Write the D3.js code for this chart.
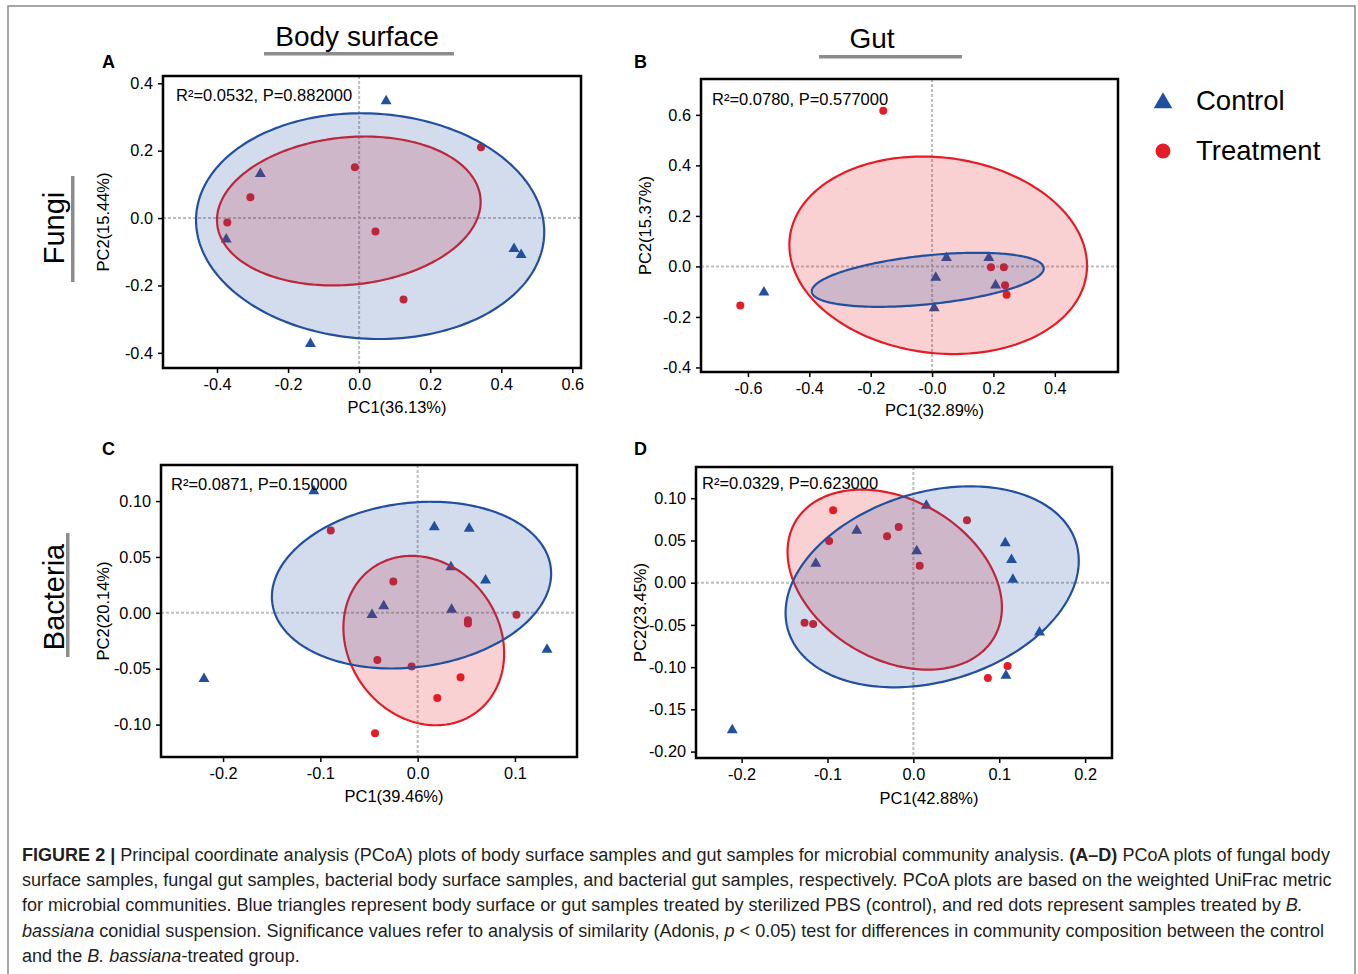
<!DOCTYPE html>
<html><head><meta charset="utf-8">
<script src="https://cdn.jsdelivr.net/npm/d3@7"></script>
<style>body{margin:0;background:#fff}svg{display:block;font-family:"Liberation Sans",Arial,sans-serif}</style>
</head><body><svg id="c" width="1358" height="974"></svg>
<script>
// ---------------- data ----------------
const groups = ["Control", "Treatment"];
const columnTitles = ["Body surface", "Gut"];
const rowTitles = ["Fungi", "Bacteria"];
const panelLetters = ["A", "B", "C", "D"];
const pcLabelsX = ["PC1(36.13%)", "PC1(32.89%)", "PC1(39.46%)", "PC1(42.88%)"];
const pcLabelsY = ["PC2(15.44%)", "PC2(15.37%)", "PC2(20.14%)", "PC2(23.45%)"];
const statsText = ["R²=0.0532, P=0.882000", "R²=0.0780, P=0.577000", "R²=0.0871, P=0.150000", "R²=0.0329, P=0.623000"];

const xTickLabels = [
  ["-0.4", "-0.2", "0.0", "0.2", "0.4", "0.6"],
  ["-0.6", "-0.4", "-0.2", "-0.0", "0.2", "0.4"],
  ["-0.2", "-0.1", "0.0", "0.1"],
  ["-0.2", "-0.1", "0.0", "0.1", "0.2"]
];
const yTickLabels = [
  ["-0.4", "-0.2", "0.0", "0.2", "0.4"],
  ["-0.4", "-0.2", "0.0", "0.2", "0.4", "0.6"],
  ["-0.10", "-0.05", "0.00", "0.05", "0.10"],
  ["-0.20", "-0.15", "-0.10", "-0.05", "0.00", "0.05", "0.10"]
];

// PCoA sample coordinates [PC1, PC2]
const controlA = [[0.076, 0.347], [-0.278, 0.131], [-0.374, -0.063], [0.436, -0.091], [0.456, -0.109], [-0.137, -0.373]];
const treatmentA = [[0.343, 0.210], [-0.012, 0.151], [-0.306, 0.062], [-0.371, -0.013], [0.046, -0.040], [0.125, -0.242]];

const controlB = [[-0.548, -0.103], [0.047, 0.034], [0.185, 0.034], [0.012, -0.044], [0.207, -0.075], [0.007, -0.165]];
const treatmentB = [[-0.159, 0.616], [-0.625, -0.155], [0.192, -0.003], [0.234, -0.003], [0.238, -0.075], [0.243, -0.112]];

const controlC = [[-0.1067, 0.109], [-0.2196, -0.059], [0.0171, 0.0767], [0.053, 0.0755], [0.0342, 0.0409], [0.0698, 0.029],
  [-0.0349, 0.006], [-0.0469, -0.0018], [0.0349, 0.003], [0.133, -0.0328]];
const treatmentC = [[-0.0893, 0.0737], [-0.025, 0.028], [0.0517, -0.0066], [0.0517, -0.0096], [0.1016, -0.0018],
  [-0.0414, -0.0421], [-0.0062, -0.048], [0.0441, -0.0576], [0.0202, -0.0761], [-0.0438, -0.1078]];

const controlD = [[-0.2109, -0.1745], [-0.1136, 0.0225], [-0.0659, 0.0616], [0.0151, 0.0912], [0.0039, 0.0375],
  [0.107, 0.047], [0.1143, 0.0272], [0.1159, 0.0036], [0.1469, -0.0588], [0.1078, -0.1101]];
const treatmentD = [[-0.0934, 0.0857], [-0.0981, 0.0493], [-0.1267, -0.0474], [-0.1167, -0.049], [-0.0306, 0.0549],
  [-0.0171, 0.0659], [0.0074, 0.0201], [0.0624, 0.0738], [0.1097, -0.0987], [0.0868, -0.1129]];

// confidence ellipses: [centre PC1, centre PC2, half-range PC1, half-range PC2, tilt (deg)]
const ellipseControl = [[0.031, -0.024, 0.49, 0.335, -3], [-0.014, -0.053, 0.378, 0.107, 25],
  [-0.0063, 0.0248, 0.1435, 0.0746, 8], [0.0219, -0.0049, 0.1707, 0.119, 15]];
const ellipseTreatment = [[-0.029, 0.021, 0.371, 0.221, 7], [0.020, 0.044, 0.485, 0.391, -6],
  [0.0063, -0.0248, 0.0826, 0.0758, -8.7], [-0.0217, 0.0036, 0.1248, 0.1066, -18]];

const controlPoints = [controlA, controlB, controlC, controlD];
const treatmentPoints = [treatmentA, treatmentB, treatmentC, treatmentD];

// ---------------- layout ----------------
const layout = [
  {left: 163, right: 581, top: 76, bottom: 368, xDom: [-0.552, 0.6245], yDom: [-0.445, 0.4216], stat: [13, 19], yTitleX: 109, xTitleY: 407, letter: [102, 68]},
  {left: 701, right: 1118, top: 79, bottom: 372, xDom: [-0.753, 0.606], yDom: [-0.418, 0.742], stat: [11, 20], yTitleX: 651, xTitleY: 410, letter: [634, 68]},
  {left: 161, right: 577, top: 465, bottom: 757, xDom: [-0.2638, 0.1638], yDom: [-0.129, 0.1323], stat: [10, 19], yTitleX: 109, xTitleY: 796, letter: [102, 455]},
  {left: 696, right: 1112, top: 467, bottom: 758, xDom: [-0.2531, 0.2313], yDom: [-0.2076, 0.137], stat: [6, 16], yTitleX: 646, xTitleY: 798, letter: [634, 455]}
];
const blue = "#22509f", red = "#e31d25";
const blueFill = "rgba(31,78,158,0.2)", redFill = "rgba(228,26,28,0.2)";

const svg = d3.select("#c");
svg.append("rect").attr("width", 1358).attr("height", 974).attr("fill", "#fff");
// outer frame
svg.append("path").attr("d", "M8,974 V6 H1355 V974").attr("fill", "none").attr("stroke", "#8a8a8a").attr("stroke-width", 1.5);

function ellipsePoints(e) {
  const [cx, cy, rx, ry, phiDeg] = e;
  const phi = phiDeg * Math.PI / 180;
  return d3.range(0, 241).map(i => {
    const t = i / 240 * 2 * Math.PI;
    return [cx + rx * Math.cos(t), cy + ry * Math.sin(t + phi)];
  });
}

layout.forEach((L, i) => {
  const x = d3.scaleLinear().domain(L.xDom).range([L.left, L.right]);
  const y = d3.scaleLinear().domain(L.yDom).range([L.bottom, L.top]);
  const g = svg.append("g");

  // reference lines at 0
  g.append("line").attr("x1", x(0)).attr("x2", x(0)).attr("y1", L.top).attr("y2", L.bottom)
    .attr("stroke", "#bdbdbd").attr("stroke-width", 2).attr("stroke-dasharray", "3,2");
  g.append("line").attr("y1", y(0)).attr("y2", y(0)).attr("x1", L.left).attr("x2", L.right)
    .attr("stroke", "#bdbdbd").attr("stroke-width", 2).attr("stroke-dasharray", "3,2");

  // points (drawn beneath ellipses)
  g.selectAll(".tri").data(controlPoints[i]).join("path")
    .attr("d", d3.symbol().type(d3.symbolTriangle).size(52))
    .attr("transform", d => `translate(${x(d[0])},${y(d[1])})`)
    .attr("fill", blue);
  g.selectAll(".dot").data(treatmentPoints[i]).join("circle")
    .attr("cx", d => x(d[0])).attr("cy", d => y(d[1])).attr("r", 4).attr("fill", red);

  const line = d3.line().x(d => x(d[0])).y(d => y(d[1])).curve(d3.curveLinearClosed);
  g.append("path").attr("d", line(ellipsePoints(ellipseTreatment[i])))
    .attr("fill", redFill).attr("stroke", red).attr("stroke-width", 2.2);
  g.append("path").attr("d", line(ellipsePoints(ellipseControl[i])))
    .attr("fill", blueFill).attr("stroke", blue).attr("stroke-width", 2.2);

  // axes
  const xt = xTickLabels[i], yt = yTickLabels[i];
  const xa = g.append("g").attr("transform", `translate(0,${L.bottom})`)
    .call(d3.axisBottom(x).tickValues(xt.map(Number)).tickFormat((d, k) => xt[k]).tickSize(5).tickPadding(5));
  const ya = g.append("g").attr("transform", `translate(${L.left},0)`)
    .call(d3.axisLeft(y).tickValues(yt.map(Number)).tickFormat((d, k) => yt[k]).tickSize(5).tickPadding(5));
  [xa, ya].forEach(a => {
    a.select(".domain").remove();
    a.selectAll(".tick line").attr("stroke", "#000").attr("stroke-width", 1.5);
    a.selectAll(".tick text").attr("fill", "#000").style("font-size", "16.3px").style("font-family", '"Liberation Sans",Arial,sans-serif');
  });

  // frame
  g.append("rect").attr("x", L.left).attr("y", L.top).attr("width", L.right - L.left).attr("height", L.bottom - L.top)
    .attr("fill", "none").attr("stroke", "#000").attr("stroke-width", 2.5);

  // stats text
  g.append("text").attr("x", L.left + L.stat[0]).attr("y", L.top + L.stat[1] + 6)
    .attr("font-size", 16.5).text(statsText[i]);

  // axis titles
  g.append("text").attr("x", (L.left + L.right) / 2 + 25).attr("y", L.xTitleY + 6).attr("text-anchor", "middle")
    .attr("font-size", 16.5).text(pcLabelsX[i]);
  g.append("text").attr("transform", `translate(${L.yTitleX},${(L.top + L.bottom) / 2}) rotate(-90)`)
    .attr("text-anchor", "middle").attr("font-size", 16.5).text(pcLabelsY[i]);

  // panel letter
  g.append("text").attr("x", L.letter[0]).attr("y", L.letter[1]).attr("font-size", 18).attr("font-weight", "bold").text(panelLetters[i]);
});

// column titles
const colPos = [{cx: 357, base: 46, bar: [264, 454, 52]}, {cx: 872, base: 48, bar: [819, 962, 55]}];
columnTitles.forEach((t, i) => {
  const c = colPos[i];
  svg.append("text").attr("x", c.cx).attr("y", c.base).attr("text-anchor", "middle").attr("font-size", 28).text(t);
  svg.append("rect").attr("x", c.bar[0]).attr("y", c.bar[2]).attr("width", c.bar[1] - c.bar[0]).attr("height", 3.5).attr("fill", "#8c8c8c");
});

// row titles
const rowPos = [{cy: 228, base: 64, bar: [176, 282, 71]}, {cy: 597, base: 64, bar: [533, 657, 66]}];
rowTitles.forEach((t, i) => {
  const r = rowPos[i];
  svg.append("text").attr("transform", `translate(${r.base},${r.cy}) rotate(-90)`).attr("text-anchor", "middle")
    .attr("font-size", 29).text(t);
  svg.append("rect").attr("x", r.bar[2]).attr("y", r.bar[0]).attr("width", 3.5).attr("height", r.bar[1] - r.bar[0]).attr("fill", "#8c8c8c");
});

// legend
const leg = svg.append("g");
leg.append("path").attr("d", d3.symbol().type(d3.symbolTriangle).size(150)).attr("transform", "translate(1163,103)").attr("fill", blue);
leg.append("circle").attr("cx", 1163).attr("cy", 151).attr("r", 7.5).attr("fill", red);
groups.forEach((gname, i) => {
  leg.append("text").attr("x", 1196).attr("y", 100 + i * 50 + 10).attr("font-size", 27.5).text(gname);
});

// caption
const captionLines = [
  [["b", "FIGURE 2 | "], ["n", "Principal coordinate analysis (PCoA) plots of body surface samples and gut samples for microbial community analysis. "], ["b", "(A–D)"], ["n", " PCoA plots of fungal body"]],
  [["n", "surface samples, fungal gut samples, bacterial body surface samples, and bacterial gut samples, respectively. PCoA plots are based on the weighted UniFrac metric"]],
  [["n", "for microbial communities. Blue triangles represent body surface or gut samples treated by sterilized PBS (control), and red dots represent samples treated by "], ["i", "B."]],
  [["i", "bassiana"], ["n", " conidial suspension. Significance values refer to analysis of similarity (Adonis, "], ["i", "p"], ["n", " < 0.05) test for differences in community composition between the control"]],
  [["n", "and the "], ["i", "B. bassiana"], ["n", "-treated group."]]
];
captionLines.forEach((ln, i) => {
  const t = svg.append("text").attr("x", 22).attr("y", 861 + i * 25.2).attr("font-size", 18.05).attr("fill", "#231f20");
  ln.forEach(([s, txt]) => {
    const ts = t.append("tspan").text(txt);
    if (s === "b") ts.attr("font-weight", "bold");
    if (s === "i") ts.attr("font-style", "italic");
  });
});
</script></body></html>
